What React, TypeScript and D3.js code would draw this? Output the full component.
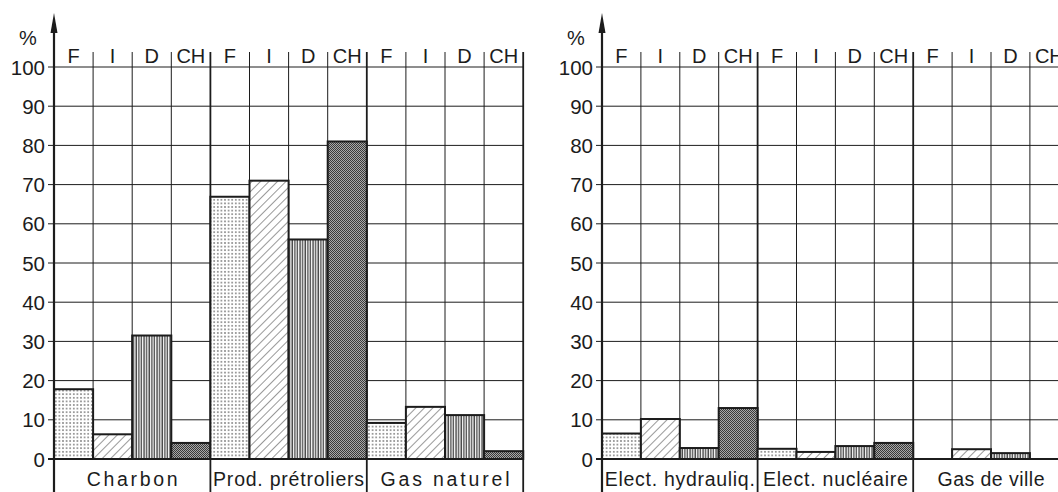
import * as d3 from 'd3'

const countries = ['F', 'I', 'D', 'CH']
const yTicks = [0, 10, 20, 30, 40, 50, 60, 70, 80, 90, 100]

const leftCategories = ['Charbon', 'Prod. prétroliers', 'Gas naturel']
const leftValues = [
  [17.8, 6.3, 31.5, 4.1],
  [66.9, 71, 56, 81],
  [9.2, 13.3, 11.2, 2],
]

const rightCategories = ['Elect. hydrauliq.', 'Elect. nucléaire', 'Gas de ville']
const rightValues = [
  [6.5, 10.2, 2.8, 13],
  [2.6, 1.8, 3.3, 4.1],
  [0, 2.5, 1.5, 0],
]

const INK = '#1c1c1c'
const FONT = 'Liberation Sans, Arial, sans-serif'
const patternIds = ['pat-F', 'pat-I', 'pat-D', 'pat-CH']

type PanelProps = {
  x0: number
  colW: number
  categories: string[]
  values: number[][]
  labelWidths: number[]
}

const y = d3.scaleLinear().domain([0, 100]).range([459, 67])
const bottom = 492
const topCol = 52

function Panel({x0, colW, categories, values, labelWidths}: PanelProps) {
  const cols = d3.range(categories.length * countries.length)
  const x = d3.scaleBand<number>().domain(cols).range([x0, x0 + cols.length * colW]).padding(0)
  const x1 = x0 + cols.length * colW
  const groupW = countries.length * colW

  return (
    <g>
      {/* horizontal grid */}
      {yTicks.map(t => (
        <line key={t} x1={x0 - 6} x2={x1} y1={y(t)} y2={y(t)} stroke={INK} strokeWidth={t === 0 ? 1.8 : 1} />
      ))}
      {/* column lines */}
      {cols.slice(1).map(c => {
        const isGroup = c % countries.length === 0
        return (
          <line key={c} x1={x(c)} x2={x(c)} y1={topCol} y2={isGroup ? bottom : y(0)}
            stroke={INK} strokeWidth={isGroup ? 1.8 : 1} />
        )
      })}
      <line x1={x1} x2={x1} y1={topCol} y2={bottom} stroke={INK} strokeWidth={1.8} />

      {/* bars */}
      {values.map((grp, gi) => grp.map((v, ci) => {
        if (v <= 0) return null
        const c = gi * countries.length + ci
        return (
          <rect key={`${gi}-${ci}`} x={x(c)} y={y(v)} width={x.bandwidth()} height={y(0) - y(v)}
            fill={`url(#${patternIds[ci]})`} stroke={INK} strokeWidth={2} />
        )
      }))}

      {/* y axis */}
      <line x1={x0} x2={x0} y1={24} y2={bottom} stroke={INK} strokeWidth={2.2} />
      <path d={`M${x0},13 L${x0 - 3.5},33 L${x0 + 3.5},33 Z`} fill={INK} />
      <text x={x0 - 26} y={45} fontSize={20} fontFamily={FONT} fill={INK} textAnchor="middle">%</text>
      {yTicks.map(t => (
        <text key={t} x={x0 - 9} y={y(t) + 7.5} fontSize={20.5} fontFamily={FONT} fill={INK} textAnchor="end">{t}</text>
      ))}

      {/* country labels */}
      {cols.map(c => (
        <text key={c} x={(x(c) ?? 0) + colW / 2} y={63} fontSize={20} fontFamily={FONT} fill={INK} textAnchor="middle">
          {countries[c % countries.length]}
        </text>
      ))}

      {/* category labels */}
      {categories.map((cat, i) => (
        <text key={cat} x={x0 + i * groupW + groupW / 2} y={486} fontSize={19.5} fontFamily={FONT} fill={INK}
          textAnchor="middle" textLength={labelWidths[i]} lengthAdjust="spacing">
          {cat}
        </text>
      ))}
    </g>
  )
}

export default function App() {
  return (
    <svg width={1058} height={492} viewBox="0 0 1058 492"
      style={{position: 'absolute', left: 0, top: 0, background: '#fff'}}>
      <defs>
        <pattern id="pat-F" width={3.6} height={3.6} patternUnits="userSpaceOnUse">
          <rect width={3.6} height={3.6} fill="#fff" />
          <circle cx={1.8} cy={1.8} r={0.75} fill={INK} />
        </pattern>
        <pattern id="pat-I" width={6} height={6} patternUnits="userSpaceOnUse" patternTransform="rotate(45)">
          <rect width={6} height={6} fill="#fff" />
          <line x1={0} y1={0} x2={0} y2={6} stroke={INK} strokeWidth={0.9} />
        </pattern>
        <pattern id="pat-D" width={2.6} height={4} patternUnits="userSpaceOnUse">
          <rect width={2.6} height={4} fill="#fff" />
          <line x1={1} y1={0} x2={1} y2={4} stroke={INK} strokeWidth={1.1} />
        </pattern>
        <pattern id="pat-CH" width={2} height={2} patternUnits="userSpaceOnUse">
          <rect width={2} height={2} fill="#a8a8a8" />
          <rect width={1} height={1} fill="#3a3a3a" />
          <rect x={1} y={1} width={1} height={1} fill="#3a3a3a" />
        </pattern>
      </defs>
      <Panel x0={54} colW={39.1} categories={leftCategories} values={leftValues} labelWidths={[91, 151, 129]} />
      <Panel x0={602} colW={38.9} categories={rightCategories} values={rightValues} labelWidths={[150, 145, 107]} />
    </svg>
  )
}
